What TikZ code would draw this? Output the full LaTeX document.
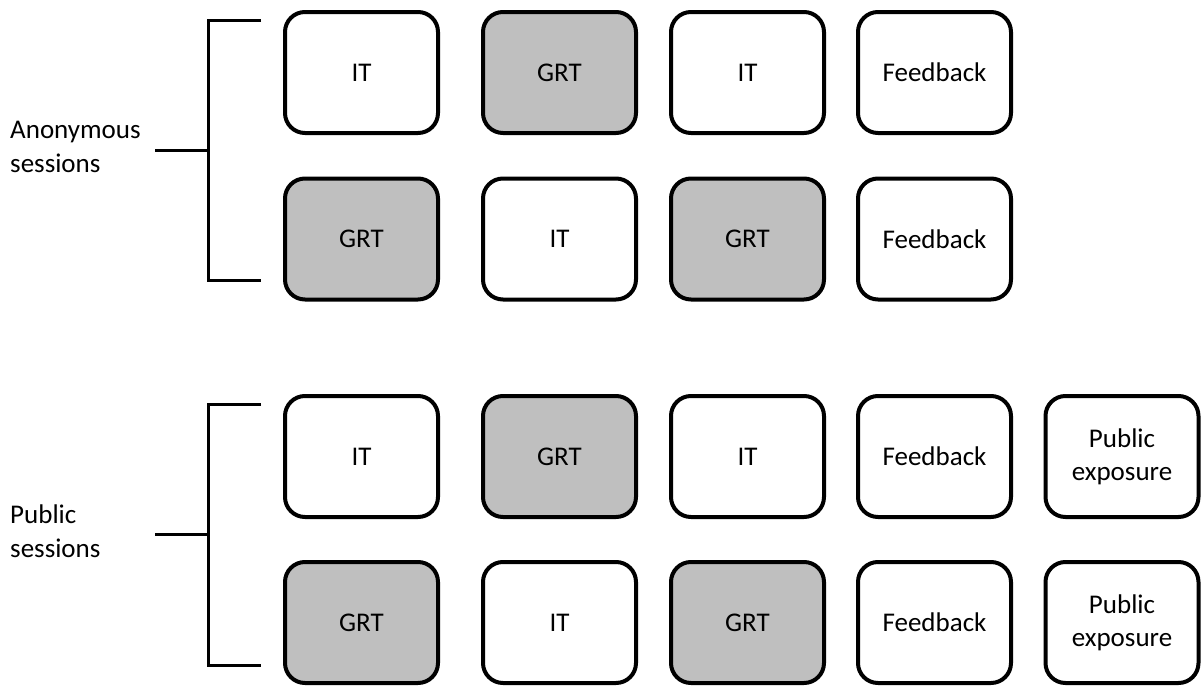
\documentclass[tikz,border=0pt]{standalone}
\usepackage{fontspec}
\setmainfont{Carlito}
\definecolor{boxgray}{HTML}{BFBFBF}
\tikzset{
  box/.style={draw=black, line width=4pt, rounded corners=20pt, minimum width=153pt, minimum height=121pt, inner sep=0pt, align=center, font=\fontsize{27}{33}\selectfont},
  wbox/.style={box, fill=white},
  gbox/.style={box, fill=boxgray},
  grp/.style={anchor=west, align=left, inner sep=0pt, font=\fontsize{27}{34}\selectfont},
  brk/.style={draw=black, line width=3pt}
}
\begin{document}
\begin{tikzpicture}[x=1pt,y=-1pt]
\useasboundingbox (0,0) rectangle (1203,688);
% columns
\def\ca{361.5}\def\cb{559.5}\def\cc{747.5}\def\cd{934.5}\def\ce{1122}
% rows
\def\ra{72.5}\def\rb{239}\def\rc{456.5}\def\rd{622.5}
% anonymous
\node[wbox] (a1) at (\ca,\ra) {IT};
\node[gbox] (a2) at (\cb,\ra) {GRT};
\node[wbox] (a3) at (\cc,\ra) {IT};
\node[wbox] (a4) at (\cd,\ra) {Feedback};
\node[gbox] (b1) at (\ca,\rb) {GRT};
\node[wbox] (b2) at (\cb,\rb) {IT};
\node[gbox] (b3) at (\cc,\rb) {GRT};
\node[wbox] (b4) at (\cd,\rb) {Feedback};
% public
\node[wbox] (c1) at (\ca,\rc) {IT};
\node[gbox] (c2) at (\cb,\rc) {GRT};
\node[wbox] (c3) at (\cc,\rc) {IT};
\node[wbox] (c4) at (\cd,\rc) {Feedback};
\node[wbox] (c5) at (\ce,\rc) {Public\\exposure};
\node[gbox] (d1) at (\ca,\rd) {GRT};
\node[wbox] (d2) at (\cb,\rd) {IT};
\node[gbox] (d3) at (\cc,\rd) {GRT};
\node[wbox] (d4) at (\cd,\rd) {Feedback};
\node[wbox] (d5) at (\ce,\rd) {Public\\exposure};
% labels
\node[grp] (anon) at (10,147) {Anonymous\\sessions};
\node[grp] (pub) at (10,531) {Public\\sessions};
% brackets
\coordinate (at) at (261,20);
\coordinate (ab) at (261,280);
\coordinate (am) at (208,150);
\coordinate (as) at (155,150);
\draw[brk] (at) -- (208,20) -- (208,280) -- (ab);
\draw[brk] (as) -- (am);
\coordinate (pt) at (261,404);
\coordinate (pb) at (261,665);
\coordinate (pm) at (208,534);
\coordinate (ps) at (155,534);
\draw[brk] (pt) -- (208,404) -- (208,665) -- (pb);
\draw[brk] (ps) -- (pm);
\end{tikzpicture}
\end{document}
